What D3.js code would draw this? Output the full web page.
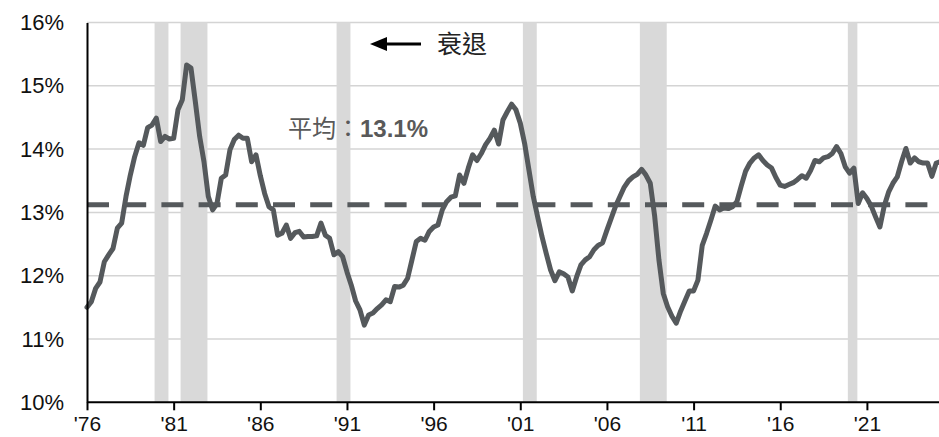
<!DOCTYPE html>
<html>
<head>
<meta charset="utf-8">
<script src="https://cdn.jsdelivr.net/npm/d3@7"></script>
<style>
  body { margin: 0; background: #fff; }
  svg { display: block; }
</style>
</head>
<body>
<svg width="939" height="437"></svg>
<script>
// quarterly values, first quarter of 1976 onward (%)
var startYear = 1976;
var ratio = [
    11.50, 11.59, 11.80, 11.90,
    12.22, 12.33, 12.43, 12.75,
    12.83, 13.25, 13.59, 13.88,
    14.10, 14.06, 14.34, 14.38,
    14.49, 14.12, 14.20, 14.16,
    14.17, 14.62, 14.78, 15.33,
    15.28, 14.75, 14.20, 13.80,
    13.25, 13.04, 13.14, 13.54,
    13.59, 13.99, 14.15, 14.22,
    14.17, 14.17, 13.80, 13.91,
    13.58, 13.30, 13.09, 13.04,
    12.64, 12.67, 12.80, 12.59,
    12.68, 12.70, 12.61, 12.62,
    12.62, 12.63, 12.83, 12.64,
    12.59, 12.33, 12.38, 12.30,
    12.06, 11.85, 11.60, 11.46,
    11.22, 11.38, 11.41, 11.48,
    11.54, 11.62, 11.59, 11.83,
    11.82, 11.85, 11.96, 12.25,
    12.54, 12.59, 12.56, 12.70,
    12.77, 12.80, 13.04, 13.17,
    13.24, 13.26, 13.59, 13.46,
    13.70, 13.91, 13.82, 13.93,
    14.07, 14.17, 14.30, 14.08,
    14.46, 14.59, 14.71, 14.62,
    14.41, 14.09, 13.67, 13.25,
    12.93, 12.62, 12.35, 12.09,
    11.92, 12.06, 12.03, 11.98,
    11.76, 11.98, 12.17, 12.25,
    12.30, 12.41, 12.48, 12.52,
    12.72, 12.91, 13.10, 13.25,
    13.40, 13.50, 13.56, 13.60,
    13.68, 13.59, 13.46, 12.95,
    12.25, 11.72, 11.51, 11.36,
    11.25, 11.44, 11.60, 11.76,
    11.76, 11.93, 12.48, 12.67,
    12.88, 13.10, 13.04, 13.07,
    13.06, 13.09, 13.17, 13.42,
    13.65, 13.78, 13.86, 13.91,
    13.82, 13.75, 13.70, 13.55,
    13.43, 13.41, 13.44, 13.47,
    13.52, 13.58, 13.54, 13.66,
    13.82, 13.80, 13.86, 13.88,
    13.93, 14.04, 13.93, 13.72,
    13.62, 13.70, 13.14, 13.31,
    13.22, 13.10, 12.93, 12.77,
    13.10, 13.32, 13.46, 13.56,
    13.80, 14.01, 13.78, 13.86,
    13.80, 13.78, 13.78, 13.57,
    13.78, 13.80
];

var average = 13.12;
var averageLabel = '13.1%';

// recession periods (decimal years)
var recStart = [1979.9, 1981.4, 1990.4, 2001.15, 2007.9, 2019.9];
var recEnd   = [1980.7, 1982.95, 1991.2, 2001.95, 2009.45, 2020.45];

var xTicks = [1976, 1981, 1986, 1991, 1996, 2001, 2006, 2011, 2016, 2021];
var xTickLabels = ["'76", "'81", "'86", "'91", "'96", "'01", "'06", "'11", "'16", "'21"];
var yTicks = [10, 11, 12, 13, 14, 15, 16];

var svg = d3.select('svg');
var lineColor = '#55595c';
var font = '"Liberation Sans", Arial, sans-serif';
var cjk = '"Liberation Sans", Arial, "Noto Sans CJK TC", sans-serif';

var x = d3.scaleLinear()
    .domain([1976, 2025.16])
    .range([87, 939]);

var y = d3.scaleLinear()
    .domain([10, 16])
    .range([402.3, 22.5]);

var data = ratio.map(function(v, i) {
    return { t: startYear + i / 4, v: v };
});

// gridlines
svg.append('g')
    .selectAll('line')
    .data(yTicks.slice(1))
    .enter().append('line')
    .attr('x1', x(1976)).attr('x2', 939)
    .attr('y1', function(d) { return y(d); })
    .attr('y2', function(d) { return y(d); })
    .attr('stroke', '#d4d4d4')
    .attr('stroke-width', 1.5);

// recession bands
svg.append('g')
    .selectAll('rect')
    .data(recStart)
    .enter().append('rect')
    .attr('x', function(d) { return x(d); })
    .attr('width', function(d, i) { return x(recEnd[i]) - x(d); })
    .attr('y', y(16))
    .attr('height', y(10) - y(16))
    .attr('fill', '#d9d9d9');

// average line
svg.append('line')
    .attr('x1', x(1976)).attr('x2', 939)
    .attr('y1', y(average)).attr('y2', y(average))
    .attr('stroke', lineColor)
    .attr('stroke-width', 5)
    .attr('stroke-dasharray', '22,15.2');

// series
var line = d3.line()
    .x(function(d) { return x(d.t); })
    .y(function(d) { return y(d.v); });

svg.append('path')
    .datum(data)
    .attr('d', line)
    .attr('fill', 'none')
    .attr('stroke', lineColor)
    .attr('stroke-width', 5)
    .attr('stroke-linejoin', 'round')
    .attr('stroke-linecap', 'round');

// axes
var xAxis = d3.axisBottom(x)
    .tickValues(xTicks)
    .tickFormat(function(d, i) { return xTickLabels[i]; })
    .tickSize(8)
    .tickSizeOuter(0);

var gx = svg.append('g')
    .attr('transform', 'translate(0,' + y(10) + ')')
    .call(xAxis);
gx.select('.domain').attr('stroke', '#000').attr('stroke-width', 2)
    .attr('d', 'M' + x(1976) + ',0H939');
gx.selectAll('.tick line').attr('stroke', '#000').attr('stroke-width', 2);
gx.selectAll('.tick text')
    .attr('y', 14)
    .attr('dy', '0.71em')
    .style('font-family', font)
    .style('font-size', '21px')
    .style('fill', '#111');

var yAxis = d3.axisLeft(y)
    .tickValues(yTicks)
    .tickFormat(function(d) { return d + '%'; })
    .tickSize(0)
    .tickPadding(23);

var gy = svg.append('g')
    .attr('transform', 'translate(' + x(1976) + ',0)')
    .call(yAxis);
gy.select('.domain').attr('stroke', '#000').attr('stroke-width', 2);
gy.selectAll('.tick text')
    .style('font-family', font)
    .style('font-size', '22px')
    .style('fill', '#111');

// average label
var lab = svg.append('text')
    .attr('x', 288)
    .attr('y', 137)
    .style('font-family', cjk)
    .style('font-size', '24px')
    .style('fill', '#595959');
lab.append('tspan').text('平均：');
lab.append('tspan').style('font-weight', 'bold').text(averageLabel);

// recession legend
svg.append('line')
    .attr('x1', 380).attr('x2', 421)
    .attr('y1', 44).attr('y2', 44)
    .attr('stroke', '#000')
    .attr('stroke-width', 3);
svg.append('path')
    .attr('d', 'M370,44L387,37L387,51Z')
    .attr('fill', '#000');
svg.append('text')
    .attr('x', 437)
    .attr('y', 44)
    .attr('dy', '0.36em')
    .style('font-family', '"Noto Sans CJK TC", sans-serif')
    .style('font-size', '25px')
    .style('fill', '#222')
    .text('衰退');
</script>
</body>
</html>
